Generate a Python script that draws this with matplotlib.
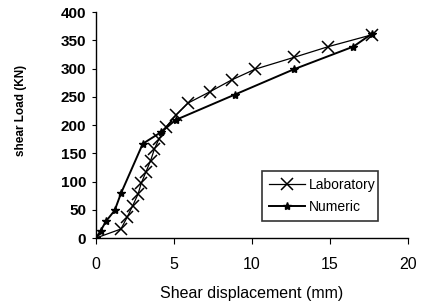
import matplotlib
matplotlib.use("Agg")
import matplotlib.pyplot as plt

# Laboratory data (shear displacement mm, shear load kN)
lab_x = [0, 1.6, 2.0, 2.35, 2.7, 2.9, 3.2, 3.5, 3.75, 4.05, 4.5, 5.1, 5.9, 7.3, 8.7, 10.2, 12.7, 14.9, 17.7]
lab_y = [0, 16, 37, 57, 78, 97, 117, 137, 158, 176, 197, 217, 239, 259, 280, 299, 320, 339, 360]

# Numeric data
num_x = [0, 0.3, 0.65, 1.2, 1.6, 3.0, 4.2, 5.1, 8.9, 12.7, 16.5, 17.7]
num_y = [0, 13, 30, 49, 79, 167, 188, 209, 254, 299, 339, 362]

xticks = [0, 5, 10, 15, 20]
yticks = [0, 50, 100, 150, 200, 250, 300, 350, 400]

plt.rcParams['font.family'] = ['Liberation Sans', 'DejaVu Sans']

fig = plt.figure(figsize=(4.21, 3.04), dpi=100)
ax = fig.add_axes([0.228, 0.217, 0.741, 0.743])

ax.plot(lab_x, lab_y, color='black', lw=0.9, marker='x', ms=8, mew=1.1,
        label='Laboratory')
ax.plot(num_x, num_y, color='black', lw=1.4, marker='*', ms=6,
        label='Numeric')

ax.set_xlim(0, 20)
ax.set_ylim(0, 400)
ax.set_xticks(xticks)
ax.set_yticks(yticks)
ax.tick_params(axis='x', labelsize=11.5, length=4, direction='out', pad=10)
ax.tick_params(axis='y', labelsize=11, length=3, direction='out', pad=4)
for lbl in ax.get_yticklabels():
    lbl.set_fontweight('bold')

for s in ['top', 'right']:
    ax.spines[s].set_visible(False)
ax.spines['left'].set_linewidth(1.0)
ax.spines['bottom'].set_linewidth(1.0)

ax.set_xlabel('Shear displacement (mm)', fontsize=11.5, labelpad=10)
ax.set_ylabel('shear Load (KN)', fontsize=8.5, fontweight='bold',
              labelpad=24, y=0.566)

leg = ax.legend(loc='lower left', bbox_to_anchor=(0.51, 0.044, 0.415, 0.256),
                mode='expand', frameon=True, fancybox=False,
                edgecolor='black', fontsize=10, handlelength=2.6,
                handletextpad=0.3, borderpad=0.5, labelspacing=0.6)
leg.get_frame().set_linewidth(1.2)

fig.savefig('out.png', dpi=100)
